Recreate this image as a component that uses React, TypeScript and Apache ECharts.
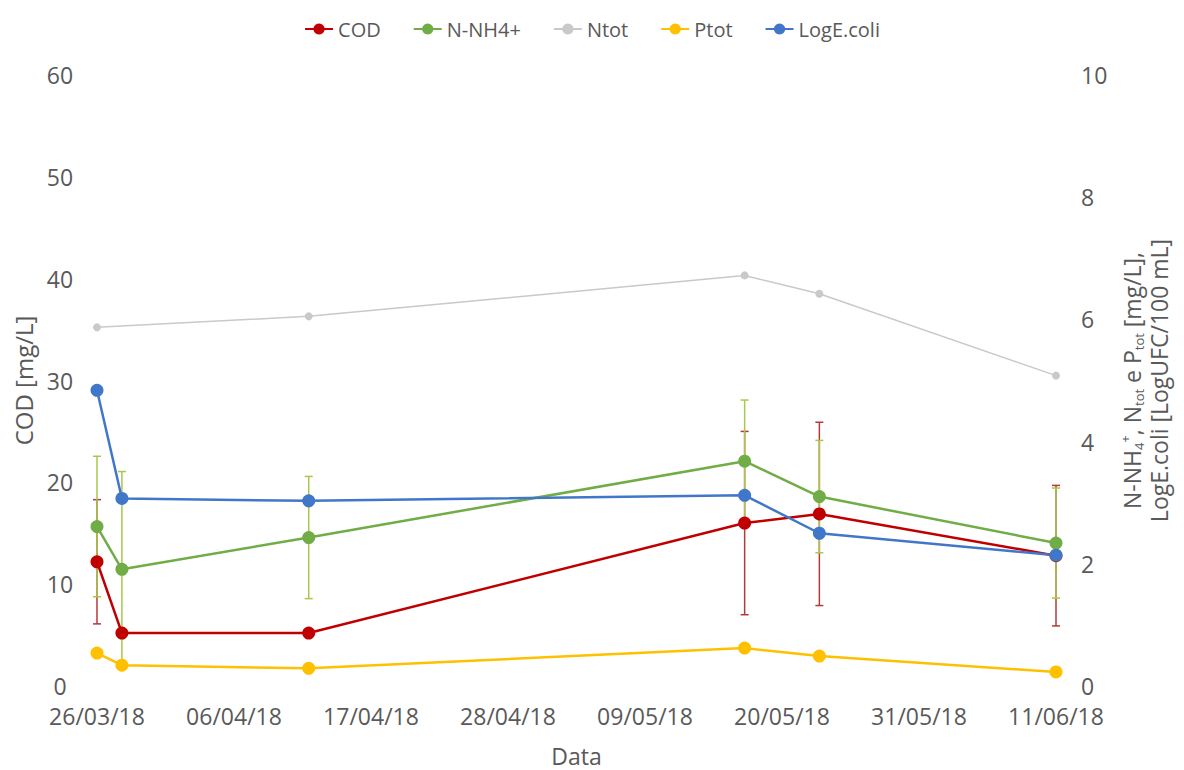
import React, { useEffect, useRef } from "react";
import * as echarts from "echarts";

const START = "2018-03-26";
const dates = ["2018-03-26", "2018-03-28", "2018-04-12", "2018-05-17", "2018-05-23", "2018-06-11"];
const cod = [12.2, 5.2, 5.2, 16.0, 16.9, 12.8];
const codErr = [6.1, 0, 0, 9.0, 9.0, 6.9];
const nh4 = [2.61, 1.91, 2.43, 3.68, 3.1, 2.34];
const nh4Err = [1.15, 1.6, 1.0, 1.0, 0.92, 0.9];
const ntot = [5.87, null, 6.05, 6.72, 6.42, 5.08];
const ptot = [0.54, 0.34, 0.29, 0.62, 0.49, 0.23];
const ecoli = [4.84, 3.07, 3.03, 3.12, 2.5, 2.14];
const legendNames = ["COD", "N-NH4+", "Ntot", "Ptot", "LogE.coli"];
const xMax = 77;
const xInterval = 11;

const DAY = 86400000;
const toUTC = (s: string) => {
  const [y, m, d] = s.split("-").map(Number);
  return Date.UTC(y, m - 1, d);
};
const startMs = toUTC(START);
const xs = dates.map((d) => Math.round((toUTC(d) - startMs) / DAY));
const pad = (n: number) => (n < 10 ? "0" + n : "" + n);
const fmtDate = (v: number) => {
  const dt = new Date(startMs + v * DAY);
  return `${pad(dt.getUTCDate())}/${pad(dt.getUTCMonth() + 1)}/${String(dt.getUTCFullYear()).slice(2)}`;
};

const FONT = "Open Sans";
const TXT = "#595959";

function lineSeries(name: string, vals: (number | null)[], yAxisIndex: number, color: string, thin = false) {
  return {
    type: "line",
    name,
    yAxisIndex,
    data: xs.map((x, i) => [x, vals[i]]),
    connectNulls: true,
    symbol: "circle",
    symbolSize: thin ? 8 : 13,
    z: thin ? 2 : 3,
    itemStyle: { color },
    lineStyle: { color, width: thin ? 1.5 : 2.5 },
  };
}

function errSeries(vals: number[], errs: number[], yAxisIndex: number, color: string) {
  return {
    type: "custom",
    name: "err" + yAxisIndex,
    yAxisIndex,
    z: 1,
    silent: true,
    encode: { x: 0, y: 1 },
    data: xs.map((x, i) => [x, vals[i], errs[i]]).filter((d) => d[2] > 0),
    renderItem: (_p: any, api: any) => {
      const x = api.value(0);
      const y = api.value(1);
      const e = api.value(2);
      const top = api.coord([x, y + e]);
      const bot = api.coord([x, y - e]);
      const hw = 4;
      const style = { stroke: color, lineWidth: 1.5 };
      return {
        type: "group",
        children: [
          { type: "line", shape: { x1: top[0], y1: top[1], x2: bot[0], y2: bot[1] }, style },
          { type: "line", shape: { x1: top[0] - hw, y1: top[1], x2: top[0] + hw, y2: top[1] }, style },
          { type: "line", shape: { x1: bot[0] - hw, y1: bot[1], x2: bot[0] + hw, y2: bot[1] }, style },
        ],
      };
    },
  };
}

export default function App() {
  const ref = useRef<HTMLDivElement>(null);
  useEffect(() => {
    document.body.style.margin = "0";
    if (!ref.current) return;
    const chart = echarts.init(ref.current, undefined, { renderer: "svg" });
    const sub = { fontSize: 13, fontFamily: FONT, color: TXT, verticalAlign: "bottom", lineHeight: 27 };
    const sup = { fontSize: 13, fontFamily: FONT, color: TXT, verticalAlign: "top", lineHeight: 27 };
    const n = { fontSize: 23, fontFamily: FONT, color: TXT, lineHeight: 27 };
    chart.setOption({
      animation: false,
      backgroundColor: "#ffffff",
      textStyle: { fontFamily: FONT },
      legend: {
        data: legendNames,
        top: 14,
        left: "center",
        itemWidth: 28,
        itemHeight: 14,
        itemGap: 32,
        textStyle: { fontSize: 20, color: TXT, fontFamily: FONT },
      },
      grid: { left: 97, right: 128, top: 75, bottom: 84, outerBoundsMode: "none" },
      xAxis: {
        type: "value",
        min: 0,
        max: xMax,
        interval: xInterval,
        name: "Data",
        nameLocation: "middle",
        nameGap: 58,
        nameTextStyle: { fontSize: 23, color: TXT, fontFamily: FONT },
        axisLine: { show: false },
        axisTick: { show: false },
        splitLine: { show: false },
        axisLabel: { formatter: fmtDate, fontSize: 23, color: TXT, fontFamily: FONT, margin: 18 },
      },
      yAxis: [
        {
          type: "value",
          min: 0,
          max: 60,
          interval: 10,
          name: "COD [mg/L]",
          nameLocation: "middle",
          nameGap: 62,
          nameTextStyle: { fontSize: 24, color: TXT, fontFamily: FONT },
          axisLine: { show: false },
          axisTick: { show: false },
          splitLine: { show: false },
          axisLabel: { fontSize: 23, color: TXT, fontFamily: FONT, align: "center", margin: 37 },
        },
        {
          type: "value",
          position: "right",
          min: 0,
          max: 10,
          interval: 2,
          name:
            "{n|N-NH}{s|4}{p|+}{n|, N}{s|tot}{n| e P}{s|tot}{n| [mg/L],}\n{n|LogE.coli [LogUFC/100 mL]}",
          nameLocation: "middle",
          nameGap: 62,
          nameTextStyle: { fontSize: 23, color: TXT, fontFamily: FONT, lineHeight: 27, rich: { n, s: sub, p: sup } },
          axisLine: { show: false },
          axisTick: { show: false },
          splitLine: { show: false },
          axisLabel: { fontSize: 23, color: TXT, fontFamily: FONT, align: "left", margin: 25 },
        },
      ],
      series: [
        errSeries(cod, codErr, 0, "#B23A3A"),
        errSeries(nh4, nh4Err, 1, "#A9C84A"),
        lineSeries("COD", cod, 0, "#C00000"),
        lineSeries("N-NH4+", nh4, 1, "#70AD47"),
        lineSeries("Ntot", ntot, 1, "#C9C9C9", true),
        lineSeries("Ptot", ptot, 1, "#FFC000"),
        lineSeries("LogE.coli", ecoli, 1, "#4177C9"),
      ],
    });
    return () => chart.dispose();
  }, []);
  return <div ref={ref} style={{ width: 1184, height: 770, overflow: "hidden" }} />;
}
